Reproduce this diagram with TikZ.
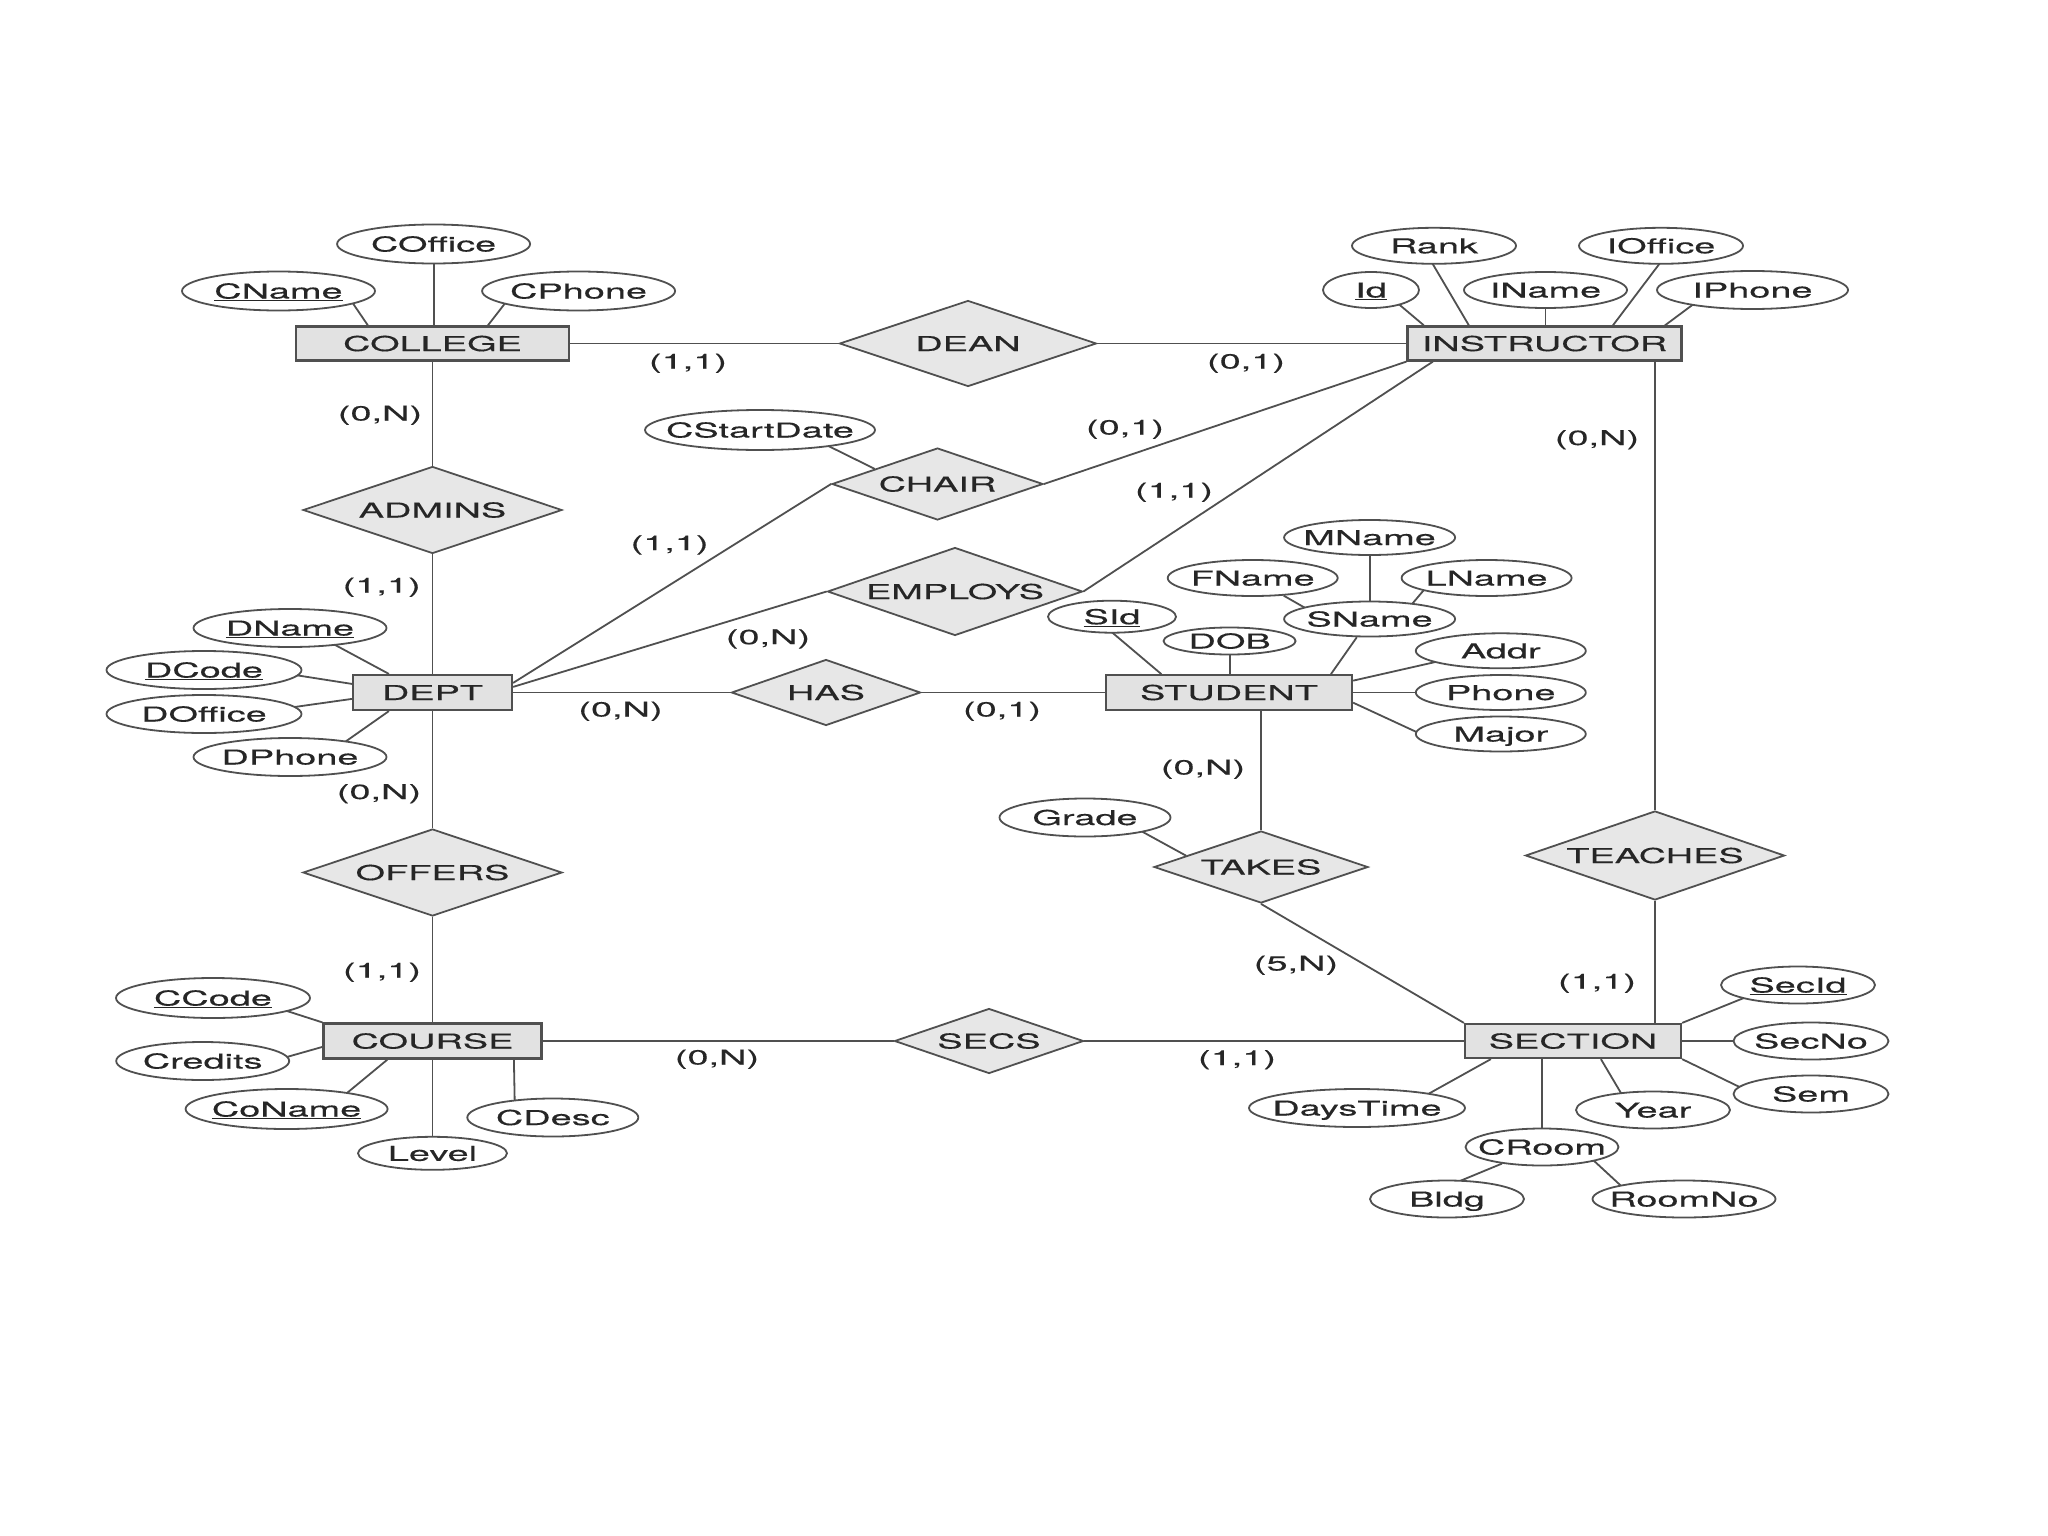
\documentclass[tikz,border=0pt]{standalone}
\usepackage{fontspec}
\setmainfont{TeX Gyre Heros}[FakeStretch=1.85,FakeBold=0.3]
\usetikzlibrary{shapes.geometric,calc}
\pgfdeclarelayer{bg}
\pgfsetlayers{bg,main}
\definecolor{linec}{HTML}{505050}
\definecolor{boxfill}{HTML}{E2E2E2}
\definecolor{relfill}{HTML}{E7E7E7}
\definecolor{txt}{HTML}{262626}
\newcommand{\zw}[1]{\makebox[0pt]{#1}}
\begin{document}
\begin{tikzpicture}[x=1pt,y=-1pt,
  every node/.style={font=\fontsize{20.5}{24}\selectfont, text=txt},
  ent/.style={rectangle, draw=linec, line width=2.2pt, fill=boxfill, inner sep=0pt, text height=15pt, text depth=0pt},
  rel/.style={diamond, draw=linec, line width=1.8pt, fill=relfill, inner sep=0pt, text height=15pt, text depth=0pt},
  att/.style={ellipse, draw=linec, line width=1.8pt, fill=white, inner sep=0pt, text height=15pt, text depth=0pt},
  card/.style={inner sep=0pt, text height=15pt, text depth=0pt},
  conn/.style={draw=linec, line width=1.8pt}]
\useasboundingbox (0,0) rectangle (2048,1536);

% entities
\node[ent, minimum width=273pt, minimum height=34pt] (college) at (432.5,343.5) {\zw{COLLEGE}};
\node[ent, minimum width=274pt, minimum height=34pt] (instructor) at (1544.5,343.5) {\zw{INSTRUCTOR}};
\node[ent, minimum width=159pt, minimum height=35pt] (dept) at (432.5,692.5) {\zw{DEPT}};
\node[ent, minimum width=246pt, minimum height=34.5pt] (student) at (1229,692.5) {\zw{STUDENT}};
\node[ent, minimum width=218pt, minimum height=35pt] (course) at (432.5,1041) {\zw{COURSE}};
\node[ent, minimum width=216pt, minimum height=34pt] (section) at (1573,1041) {\zw{SECTION}};

% relationships
\node[rel, minimum width=257pt, minimum height=86pt] (dean) at (968,343.5) {\zw{DEAN}};
\node[rel, minimum width=259pt, minimum height=87pt] (admins) at (432.5,510) {\zw{ADMINS}};
\node[rel, minimum width=211pt, minimum height=72pt] (chair) at (937.5,484) {\zw{CHAIR}};
\node[rel, minimum width=255pt, minimum height=88pt] (employs) at (955,591.5) {\zw{EMPLOYS}};
\node[rel, minimum width=189pt, minimum height=66pt] (has) at (826,692.5) {\zw{HAS}};
\node[rel, minimum width=259pt, minimum height=87pt] (offers) at (432.5,872.5) {\zw{OFFERS}};
\node[rel, minimum width=214pt, minimum height=72pt] (takes) at (1261,867) {\zw{TAKES}};
\node[rel, minimum width=259pt, minimum height=89pt] (teaches) at (1655,855.5) {\zw{TEACHES}};
\node[rel, minimum width=189pt, minimum height=65pt] (secs) at (989,1041) {\zw{SECS}};

% attributes
\node[att, minimum width=193pt, minimum height=39pt] (coffice) at (433.6,244) {\zw{COffice}};
\node[att, minimum width=193pt, minimum height=39pt] (cname) at (278.5,291) {\zw{\underline{CName}}};
\node[att, minimum width=193pt, minimum height=39pt] (cphone) at (578.6,291) {\zw{CPhone}};
\node[att, minimum width=164pt, minimum height=36pt] (rank) at (1434,245.8) {\zw{Rank}};
\node[att, minimum width=164pt, minimum height=36pt] (ioffice) at (1661,245.8) {\zw{IOffice}};
\node[att, minimum width=96pt, minimum height=36pt] (id) at (1371,290) {\zw{\underline{Id}}};
\node[att, minimum width=163pt, minimum height=36pt] (iname) at (1545.5,290) {\zw{IName}};
\node[att, minimum width=191pt, minimum height=38pt] (iphone) at (1752.5,290) {\zw{IPhone}};
\node[att, minimum width=230pt, minimum height=40pt] (cstart) at (760,430) {\zw{CStartDate}};
\node[att, minimum width=193pt, minimum height=38pt] (dname) at (290,628) {\zw{\underline{DName}}};
\node[att, minimum width=195pt, minimum height=38pt] (dcode) at (204,670) {\zw{\underline{DCode}}};
\node[att, minimum width=195pt, minimum height=38pt] (doffice) at (204,714) {\zw{DOffice}};
\node[att, minimum width=193pt, minimum height=38pt] (dphone) at (290,757) {\zw{DPhone}};
\node[att, minimum width=171pt, minimum height=35pt] (mname) at (1369.6,537.5) {\zw{MName}};
\node[att, minimum width=170pt, minimum height=36pt] (fname) at (1252.7,578) {\zw{FName}};
\node[att, minimum width=170pt, minimum height=36pt] (lname) at (1486.6,578) {\zw{LName}};
\node[att, minimum width=171pt, minimum height=35pt] (sname) at (1369.6,619) {\zw{SName}};
\node[att, minimum width=128pt, minimum height=32pt] (sid) at (1112,616.7) {\zw{\underline{SId}}};
\node[att, minimum width=132pt, minimum height=27pt] (dob) at (1229.6,641) {\zw{DOB}};
\node[att, minimum width=170pt, minimum height=35pt] (addr) at (1500.8,650.8) {\zw{Addr}};
\node[att, minimum width=170pt, minimum height=35pt] (phone) at (1500.8,692.5) {\zw{Phone}};
\node[att, minimum width=170pt, minimum height=35pt] (major) at (1500.8,734) {\zw{Major}};
\node[att, minimum width=171pt, minimum height=38pt] (grade) at (1085,817.5) {\zw{Grade}};
\node[att, minimum width=194pt, minimum height=40pt] (ccode) at (213,998) {\zw{\underline{CCode}}};
\node[att, minimum width=173pt, minimum height=38pt] (credits) at (202.7,1061) {\zw{Credits}};
\node[att, minimum width=202pt, minimum height=40pt] (coname) at (286.6,1109) {\zw{\underline{CoName}}};
\node[att, minimum width=149pt, minimum height=33pt] (level) at (432.5,1153.3) {\zw{Level}};
\node[att, minimum width=171pt, minimum height=38pt] (cdesc) at (552.8,1117.5) {\zw{CDesc}};
\node[att, minimum width=154pt, minimum height=37pt] (secid) at (1798,985) {\zw{\underline{SecId}}};
\node[att, minimum width=155pt, minimum height=37pt] (secno) at (1811,1041) {\zw{SecNo}};
\node[att, minimum width=155pt, minimum height=37pt] (sem) at (1811,1094) {\zw{Sem}};
\node[att, minimum width=154pt, minimum height=37pt] (year) at (1653,1110) {\zw{Year}};
\node[att, minimum width=216pt, minimum height=38pt] (daystime) at (1357,1108) {\zw{DaysTime}};
\node[att, minimum width=153pt, minimum height=37pt] (croom) at (1542,1147) {\zw{CRoom}};
\node[att, minimum width=154pt, minimum height=37pt] (bldg) at (1447,1199) {\zw{Bldg}};
\node[att, minimum width=183pt, minimum height=37pt] (roomno) at (1684,1199) {\zw{RoomNo}};

% cardinalities
\node[card] (c1) at (688,361) {(1,1)};
\node[card] (c2) at (1246,361) {(0,1)};
\node[card] (c3) at (380,413) {(0,N)};
\node[card] (c4) at (1125,427) {(0,1)};
\node[card] (c5) at (1597,437.5) {(0,N)};
\node[card] (c6) at (1174,490) {(1,1)};
\node[card] (c7) at (669.6,542.7) {(1,1)};
\node[card] (c8) at (381.7,585) {(1,1)};
\node[card] (c9) at (768,636.7) {(0,N)};
\node[card] (c10) at (620.5,709) {(0,N)};
\node[card] (c11) at (1002,709) {(0,1)};
\node[card] (c12) at (379,791.5) {(0,N)};
\node[card] (c13) at (1203,767) {(0,N)};
\node[card] (c14) at (382,970) {(1,1)};
\node[card] (c15) at (1296,963) {(5,N)};
\node[card] (c16) at (1597,981) {(1,1)};
\node[card] (c17) at (717,1057) {(0,N)};
\node[card] (c18) at (1237,1057.5) {(1,1)};

\begin{pgfonlayer}{bg}
\fill[white] (0,0) rectangle (2048,1536);
% relationship connectors
\draw[conn] (college) -- (dean);
\draw[conn] (dean) -- (instructor);
\draw[conn] (college) -- (admins);
\draw[conn] (admins) -- (dept);
\draw[conn] (dept) -- (offers);
\draw[conn] (offers) -- (course);
\draw[conn] ($(dept.north east)+(0,9)$) -- (chair.west);
\draw[conn] (chair.east) -- (instructor.south west);
\draw[conn] ($(dept.north east)+(0,13)$) -- (employs.west);
\draw[conn] (employs.east) -- ($(instructor.south west)+(26.5,0)$);
\draw[conn] (dept) -- (has);
\draw[conn] (has) -- (student);
\draw[conn] (takes.north) -- (takes.north |- student.south);
\draw[conn] (takes.south) -- (section.north west);
\draw[conn] (teaches.north) -- (teaches.north |- instructor.south);
\draw[conn] (teaches.south) -- (teaches.south |- section.north);
\draw[conn] (course) -- (secs);
\draw[conn] (secs) -- (section);
% COLLEGE attributes
\draw[conn] ($(college.north west)+(73,0)$) -- ($(cname)+(66,0)$);
\draw[conn] (coffice) -- (coffice |- college.north);
\draw[conn] ($(college.north west)+(193,0)$) -- ($(cphone)+(-64,0)$);
% INSTRUCTOR attributes
\draw[conn] ($(instructor.north west)+(17.5,0)$) -- ($(id)+(11,0)$);
\draw[conn] ($(instructor.north west)+(62.5,0)$) -- ($(rank)+(-12,0)$);
\draw[conn] (iname) -- (iname |- instructor.north);
\draw[conn] ($(instructor.north west)+(206.5,0)$) -- ($(ioffice)+(12,0)$);
\draw[conn] ($(instructor.north west)+(258.5,0)$) -- ($(iphone)+(-40,0)$);
% CHAIR attribute
\draw[conn] ($(chair.west)!0.41!(chair.north)$) -- ($(cstart)+(36,0)$);
% DEPT attributes
\draw[conn] ($(dept.north west)+(37,0)$) -- ($(dname)+(13.6,0)$);
\draw[conn] ($(dept.north west)+(0,10)$) -- ($(dcode)+(59,0)$);
\draw[conn] ($(dept.north west)+(0,25)$) -- ($(doffice)+(41,0)$);
\draw[conn] ($(dept.south west)+(37,0)$) -- ($(dphone)+(33.6,0)$);
% STUDENT attributes
\draw[conn] ($(student.north west)+(56.5,0)$) -- ($(sid)+(-18.5,0)$);
\draw[conn] (dob) -- (dob |- student.north);
\draw[conn] ($(student.north west)+(226,0)$) -- (sname);
\draw[conn] (fname) -- ($(sname)+(-45,0)$);
\draw[conn] (mname) -- (sname);
\draw[conn] ($(lname)+(-52.6,0)$) -- ($(sname)+(29.8,0)$);
\draw[conn] ($(student.north east)+(0,6.5)$) -- ($(addr)+(-16,0)$);
\draw[conn] (student) -- (phone);
\draw[conn] ($(student.north east)+(0,28.5)$) -- ($(major)+(-80,0)$);
% TAKES attribute
\draw[conn] ($(takes.west)!0.306!(takes.north)$) -- ($(grade)+(31.4,0)$);
% SECTION attributes
\draw[conn] (section.north east) -- ($(secid)+(-22,0)$);
\draw[conn] (section) -- (secno);
\draw[conn] (section.south east) -- ($(sem)+(-57,0)$);
\draw[conn] ($(section.south west)+(137,0)$) -- ($(year)+(-22,0)$);
\draw[conn] ($(section.south west)+(27,0)$) -- ($(daystime)+(46,0)$);
\draw[conn] (croom) -- (croom |- section.south);
\draw[conn] ($(bldg)+(-30.6,0)$) -- (croom);
\draw[conn] ($(roomno)+(-48.7,0)$) -- ($(croom)+(37,0)$);
% COURSE attributes
\draw[conn] (course.north west) -- ($(ccode)+(33.6,0)$);
\draw[conn] ($(course.north west)+(0,24.5)$) -- ($(credits)+(70,0)$);
\draw[conn] ($(course.south west)+(65,0)$) -- ($(coname)+(41,0)$);
\draw[conn] (level) -- (level |- course.south);
\draw[conn] ($(course.south west)+(191.5,0)$) -- ($(cdesc)+(-37.8,0)$);
\end{pgfonlayer}
\end{tikzpicture}
\end{document}
